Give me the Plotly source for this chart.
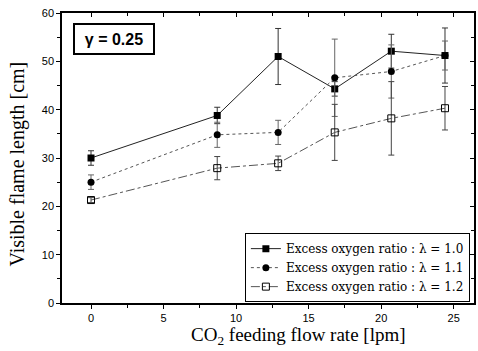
import plotly.graph_objects as go

x_vals = [0, 8.7, 12.9, 16.8, 20.7, 24.4]
y_l10 = [30.0, 38.8, 51.0, 44.3, 52.1, 51.2]
e_l10 = [1.5, 1.7, 5.8, 1.5, 3.5, 5.7]
y_l11 = [25.0, 34.8, 35.3, 46.6, 47.9, 51.2]
e_l11 = [1.5, 2.6, 2.5, 8.0, 5.5, 3.0]
y_l12 = [21.3, 27.9, 28.9, 35.3, 38.2, 40.3]
e_l12 = [0.5, 2.4, 1.5, 5.8, 7.6, 4.5]
names = ["Excess oxygen ratio : λ = 1.0",
         "Excess oxygen ratio : λ = 1.1",
         "Excess oxygen ratio : λ = 1.2"]
x_title = "CO<sub>2</sub> feeding flow rate [lpm]"
y_title = "Visible flame length [cm]"
box_label = "<b>γ = 0.25</b>"

fig = go.Figure()
fig.add_trace(go.Scatter(x=x_vals, y=y_l10, name=names[0], mode="lines+markers",
    line=dict(color="#222", width=1, dash="solid"),
    marker=dict(symbol="square", size=7, color="black"),
    error_y=dict(type="data", array=e_l10, color="#333", thickness=1, width=3)))
fig.add_trace(go.Scatter(x=x_vals, y=y_l11, name=names[1], mode="lines+markers",
    line=dict(color="#555", width=1, dash="dot"),
    marker=dict(symbol="circle", size=7, color="black"),
    error_y=dict(type="data", array=e_l11, color="#666", thickness=1, width=3)))
fig.add_trace(go.Scatter(x=x_vals, y=y_l12, name=names[2], mode="lines+markers",
    line=dict(color="#555", width=1, dash="dashdot"),
    marker=dict(symbol="square-open", size=7, color="black", line=dict(width=1)),
    error_y=dict(type="data", array=e_l12, color="#444", thickness=1, width=3)))
# helper trace for the mirrored axes
fig.add_trace(go.Scatter(x=[None], y=[None], xaxis="x2", yaxis="y2", showlegend=False))

ax_common = dict(showgrid=False, zeroline=False, showline=True, linecolor="black", linewidth=1.5,
                 ticklen=4, tickcolor="black")
tick_font = dict(family="Liberation Sans, Arial", size=11, color="black")
fig.update_layout(
    width=478, height=351,
    margin=dict(l=62, r=4, t=13, b=48),
    paper_bgcolor="white", plot_bgcolor="white",
    showlegend=True,
    legend=dict(x=0.99, y=0.003, xanchor="right", yanchor="bottom",
                bgcolor="white", bordercolor="black", borderwidth=1,
                font=dict(family="DejaVu Serif", size=12, color="black"),
                tracegroupgap=0, itemwidth=30),
    xaxis=dict(range=[-2, 26.4], tickvals=[0, 5, 10, 15, 20, 25], ticks="outside",
               minor=dict(tickvals=[-2.5, 2.5, 7.5, 12.5, 17.5, 22.5], ticks="outside", ticklen=3, tickcolor="black"),
               tickfont=tick_font, **ax_common),
    yaxis=dict(range=[0, 60], tickvals=[0, 10, 20, 30, 40, 50, 60], ticks="outside",
               minor=dict(tickvals=[5, 15, 25, 35, 45, 55], ticks="outside", ticklen=3, tickcolor="black"),
               tickfont=tick_font, **ax_common),
    xaxis2=dict(overlaying="x", side="top", range=[-2, 26.4],
                tickvals=[0, 5, 10, 15, 20, 25], ticks="inside", showticklabels=False,
                minor=dict(tickvals=[2.5, 7.5, 12.5, 17.5, 22.5], ticks="inside", ticklen=3, tickcolor="black"),
                **ax_common),
    yaxis2=dict(overlaying="y", side="right", range=[0, 60],
                tickvals=[0, 10, 20, 30, 40, 50, 60], ticks="inside", showticklabels=False,
                minor=dict(tickvals=[5, 15, 25, 35, 45, 55], ticks="inside", ticklen=3, tickcolor="black"),
                **ax_common),
    annotations=[
        dict(text=box_label, xref="paper", yref="paper", x=0.0267, y=0.9655,
             xanchor="left", yanchor="top", showarrow=False, width=74, height=24,
             font=dict(family="Liberation Sans, Arial", size=16, color="black"),
             bordercolor="black", borderwidth=2, borderpad=2, bgcolor="white"),
        dict(text=x_title, xref="paper", yref="paper", x=0.573, y=-0.114,
             xanchor="center", yanchor="middle", showarrow=False,
             font=dict(family="Liberation Serif, Times New Roman", size=19, color="black")),
        dict(text=y_title, xref="paper", yref="paper", x=-0.109, y=0.4776, textangle=-90,
             xanchor="center", yanchor="middle", showarrow=False,
             font=dict(family="Liberation Serif, Times New Roman", size=20, color="black")),
    ],
)
fig.write_html("out.html")
